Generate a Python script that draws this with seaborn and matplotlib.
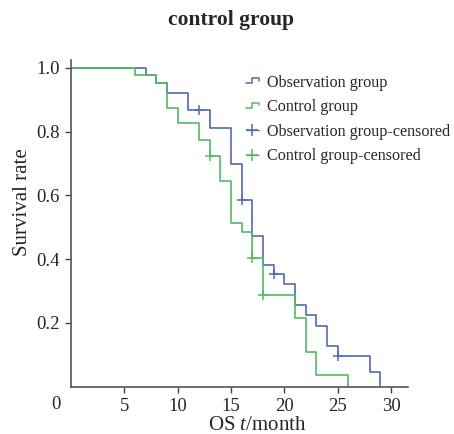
import numpy as np
import pandas as pd
import seaborn as sns
import matplotlib.pyplot as plt
from matplotlib.lines import Line2D
from matplotlib.legend_handler import HandlerLine2D

# survival curves
obs_time = [0, 7, 8, 9, 11, 13, 15, 16, 17, 18, 19, 20, 21, 22, 23, 24, 25, 28, 29]
obs_surv = [1.0, 0.977, 0.951, 0.921, 0.867, 0.812, 0.700, 0.585, 0.472, 0.383,
            0.352, 0.322, 0.256, 0.224, 0.191, 0.127, 0.095, 0.047, 0.0]
ctl_time = [0, 6, 8, 9, 10, 12, 13, 14, 15, 16, 17, 18, 21, 22, 23, 26]
ctl_surv = [1.0, 0.977, 0.951, 0.874, 0.827, 0.775, 0.724, 0.644, 0.512, 0.484,
            0.404, 0.287, 0.216, 0.109, 0.036, 0.0]

# censored marks
obs_cens_time = [12, 16, 19, 25]
obs_cens_surv = [0.867, 0.585, 0.352, 0.095]
ctl_cens_time = [13, 17, 18]
ctl_cens_surv = [0.724, 0.404, 0.287]

x_ticks = [5, 10, 15, 20, 25, 30]
y_ticks = [0.2, 0.4, 0.6, 0.8, 1.0]

blue = '#5468b8'
green = '#55b865'


class StepHandler(HandlerLine2D):
    # little step glyph like the SPSS legend
    def create_artists(self, legend, orig_handle, xdescent, ydescent,
                       width, height, fontsize, trans):
        x0 = -xdescent
        yb = -ydescent + height * 0.3
        yt = -ydescent + height * 0.75
        xs = [x0, x0 + width * 0.45, x0 + width * 0.45, x0 + width, x0 + width]
        ys = [yb, yb, yt, yt, yt - height * 0.25]
        ln = Line2D(xs, ys, color=orig_handle.get_color(), lw=1.1, transform=trans)
        return [ln]


sns.set_style('ticks')
plt.rcParams['font.family'] = ['Liberation Serif', 'DejaVu Serif']
plt.rcParams['mathtext.fontset'] = 'custom'
plt.rcParams['mathtext.it'] = 'Liberation Serif:italic'
plt.rcParams['mathtext.rm'] = 'Liberation Serif'

fig = plt.figure(figsize=(4.54, 4.34), dpi=100)
ax = fig.add_axes([0.156, 0.109, 0.743, 0.753])

obs = pd.DataFrame({'t': obs_time, 's': obs_surv})
ctl = pd.DataFrame({'t': ctl_time, 's': ctl_surv})

sns.lineplot(data=obs, x='t', y='s', ax=ax, color=blue, lw=1.2,
             drawstyle='steps-post', estimator=None, sort=False)
sns.lineplot(data=ctl, x='t', y='s', ax=ax, color=green, lw=1.2,
             drawstyle='steps-post', estimator=None, sort=False)
sns.scatterplot(x=obs_cens_time, y=obs_cens_surv, ax=ax, color=blue, marker='+',
                s=45, linewidth=1.1)
sns.scatterplot(x=ctl_cens_time, y=ctl_cens_surv, ax=ax, color=green, marker='+',
                s=45, linewidth=1.1)

ax.set_xlim(0, 31.6)
ax.set_ylim(0, 1.025)
ax.set_xticks(x_ticks)
ax.set_yticks(y_ticks)
ax.set_yticklabels(['%.1f' % v for v in y_ticks])
ax.tick_params(labelsize=13.5, length=4, width=1, color='#444444', pad=4)
sns.despine(ax=ax)
for sp in ['left', 'bottom']:
    ax.spines[sp].set_color('#555555')
    ax.spines[sp].set_linewidth(1.2)

# lone "0" at the corner
ax.text(-1.4, -0.03, '0', transform=ax.get_xaxis_transform(), ha='center', va='top',
        fontsize=13.5)

ax.set_xlabel('OS $\\it{t}$/month', fontsize=15)
ax.set_ylabel('Survival rate', fontsize=15)
ax.xaxis.set_label_coords(0.553, -0.089)
ax.yaxis.set_label_coords(-0.115, 0.565)

handles = [Line2D([], [], color=blue), Line2D([], [], color=green),
           Line2D([], [], color=blue, marker='+', lw=0.9, ms=9, mew=1.1),
           Line2D([], [], color=green, marker='+', lw=0.9, ms=9, mew=1.1)]
labels = ['Observation group', 'Control group',
          'Observation group-censored', 'Control group-censored']
leg = ax.legend(handles, labels, loc='upper left', bbox_to_anchor=(0.519, 0.955),
                frameon=False, fontsize=11.6, handlelength=0.8, handletextpad=0.5,
                borderpad=0, borderaxespad=0, labelspacing=0.53, numpoints=1,
                handler_map={handles[0]: StepHandler(), handles[1]: StepHandler()})

fig.text(0.509, 0.953, 'control group', ha='center', va='center',
         fontsize=15.5, fontweight='bold')

fig.savefig('out.png', dpi=100)
